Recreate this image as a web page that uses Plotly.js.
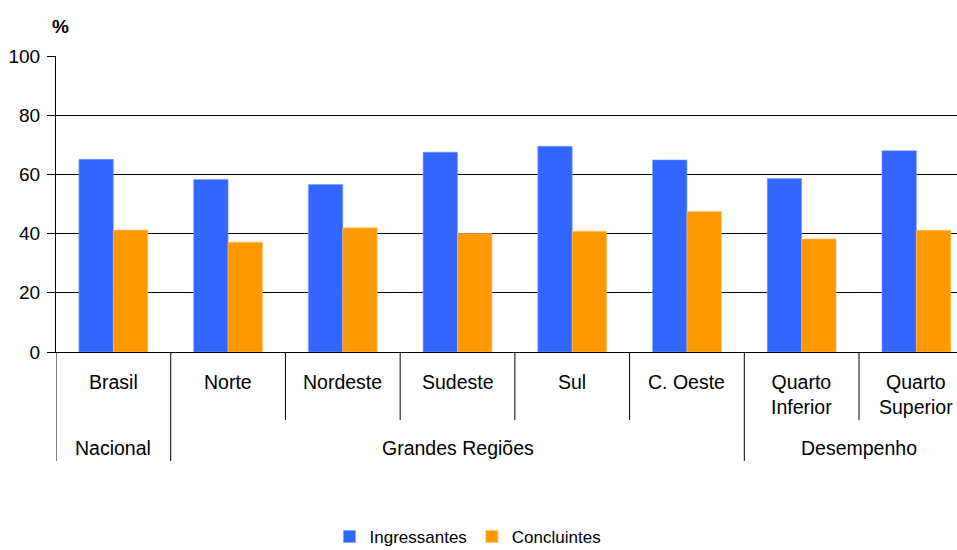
<!DOCTYPE html>
<html>
<head>
<meta charset="utf-8">
<script src="https://cdn.plot.ly/plotly-3.0.1.min.js"></script>
<style>html,body{margin:0;padding:0;overflow:hidden;background:#fff}</style>
</head>
<body>
<div id="chart" style="width:957px;height:550px"></div>
<script>
// Data
var categories = ["Brasil","Norte","Nordeste","Sudeste","Sul","C. Oeste","Quarto Inferior","Quarto Superior"];
var categoryLabels = ["Brasil","Norte","Nordeste","Sudeste","Sul","C. Oeste","Quarto<br>Inferior","Quarto<br>Superior"];
var ingressantes = [65.1, 58.3, 56.6, 67.5, 69.5, 64.9, 58.6, 68.0];
var concluintes  = [41.2, 37.1, 42.0, 40.0, 40.8, 47.5, 38.2, 41.1];
var groupNames = ["Nacional","Grandes Regiões","Desempenho"];
var groupStart = [0, 1, 6];
var groupEnd   = [0, 5, 7];
var yTicks = [0, 20, 40, 60, 80, 100];

var FONT = "'Liberation Sans', Arial, sans-serif";

var traces = [
  {type:"bar", name:"Ingressantes", x:categories, y:ingressantes,
   marker:{color:"#3366FF", line:{color:"#7a9cff", width:0.6}}},
  {type:"bar", name:"Concluintes", x:categories, y:concluintes,
   marker:{color:"#FF9900", line:{color:"#ffc066", width:0.6}}}
];

var shapes = [];
var annotations = [];
// category labels
categories.forEach(function(c, i){
  var nLines = categoryLabels[i].split("<br>").length;
  var yc = 381.7 + (nLines - 1) * 12.5; // pixel center
  annotations.push({xref:"x", yref:"paper", x:c, y:(352 - yc)/296,
    text:categoryLabels[i], showarrow:false, xanchor:"center", yanchor:"middle",
    font:{family:FONT, size:19.5, color:"#000"}});
});
// group labels and dividers
var outer = {}, allB = {};
groupNames.forEach(function(g, k){
  annotations.push({xref:"x", yref:"paper", x:(groupStart[k] + groupEnd[k]) / 2, y:(352 - 448)/296,
    text:g, showarrow:false, xanchor:"center", yanchor:"middle",
    font:{family:FONT, size:19.5, color:"#000"}});
  outer[groupStart[k] - 0.5] = true;
  for (var b = groupStart[k] - 0.5; b <= groupEnd[k] - 0.5; b += 1) allB[b] = true;
});
Object.keys(allB).forEach(function(b){
  var v = parseFloat(b);
  shapes.push({type:"line", xref:"x", yref:"paper", x0:v, x1:v, y0:0,
    y1: outer[v] ? (352 - 461)/296 : (352 - 420)/296,
    line:{color:"#000", width:1}});
});
annotations.push({xref:"paper", yref:"paper", x:(60 - 56)/901, y:(352 - 27)/296,
  text:"<b>%</b>", showarrow:false, xanchor:"center", yanchor:"middle",
  font:{family:FONT, size:19, color:"#000"}});

var layout = {
  width:957, height:550,
  margin:{l:56, r:0, t:56, b:198, pad:0, autoexpand:false},
  paper_bgcolor:"#fff", plot_bgcolor:"#fff",
  font:{family:FONT, size:18, color:"#000"},
  barmode:"group", bargap:0.4, bargroupgap:0,
  showlegend:true,
  legend:{orientation:"h", x:(468 - 56)/901, xanchor:"center", y:(352 - 537)/296, yanchor:"middle",
    font:{family:FONT, size:17, color:"#000"}, itemwidth:30, traceorder:"normal"},
  xaxis:{type:"category", range:[-0.5, 7.354], showticklabels:false, ticks:"",
    showline:true, linecolor:"#000", linewidth:1, showgrid:false, zeroline:false, fixedrange:true},
  yaxis:{range:[0, 100], tickvals:yTicks, ticktext:yTicks.map(String), ticks:"outside", ticklen:8,
    tickcolor:"#000", tickwidth:1, showline:true, linecolor:"#000", linewidth:1,
    showgrid:true, gridcolor:"#000", gridwidth:1, zeroline:false,
    tickfont:{family:FONT, size:19, color:"#000"}, ticklabelstandoff:3, fixedrange:true},
  shapes:shapes,
  annotations:annotations
};

Plotly.newPlot("chart", traces, layout, {displayModeBar:false, staticPlot:true});
</script>
</body>
</html>
